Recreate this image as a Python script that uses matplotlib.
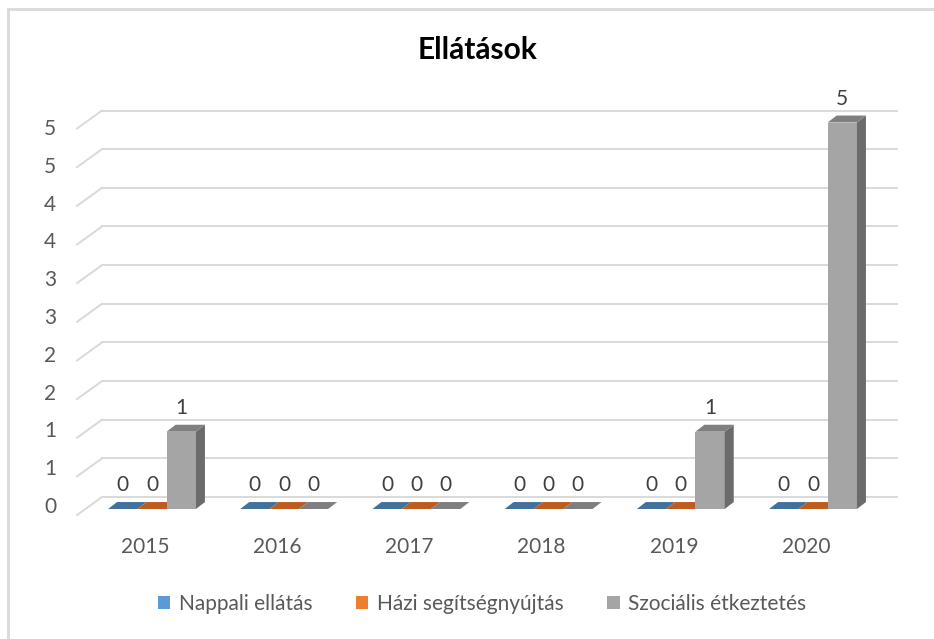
import numpy as np
import matplotlib
matplotlib.use("Agg")
import matplotlib.pyplot as plt
from matplotlib.patches import Rectangle, Polygon, Patch

# ---------------------------------------------------------------------------
# Data
# ---------------------------------------------------------------------------
years = ["2015", "2016", "2017", "2018", "2019", "2020"]
series_names = ["Nappali ellátás", "Házi segítségnyújtás", "Szociális étkeztetés"]
nappali = [0, 0, 0, 0, 0, 0]
hazi = [0, 0, 0, 0, 0, 0]
szocialis = [1, 0, 0, 0, 1, 5]
y_ticks = [0, 0.5, 1, 1.5, 2, 2.5, 3, 3.5, 4, 4.5, 5]

# colours: front, top, side
front_cols = ["#5B9BD5", "#ED7D31", "#A5A5A5"]
top_cols = ["#41719C", "#BE5B1E", "#7F7F7F"]
side_cols = ["#3A6590", "#A8501A", "#6B6B6B"]

W, H = 934, 639
# pixel calibration of the front plane (layout only)
PX_X0, PX_PER_CAT = 152, 132.2
PX_Y0, PX_PER_UNIT = 509, 77.3

BAR_W = 0.2216          # width of one bar in category units
DX, DY = 0.068, 0.09    # bar depth offset
WALL_DY = 0.155         # back wall offset
WALL_X0, WALL_X1 = -0.378, 5.635
DIAG_X0, DIAG_DY = -0.567, -0.078

FONT = "Lato"
FS = 15
TXT = "#595959"
GRID = "#D9D9D9"

fig = plt.figure(figsize=(W / 100, H / 100), dpi=100)
ax = fig.add_axes([0, 0, 1, 1])
ax.set_xlim(-PX_X0 / PX_PER_CAT, (W - PX_X0) / PX_PER_CAT)
ax.set_ylim((PX_Y0 - H) / PX_PER_UNIT, PX_Y0 / PX_PER_UNIT)
ax.axis("off")

# back wall gridlines + diagonal floor edges + tick labels
for v in y_ticks:
    ax.plot([WALL_X0, WALL_X1], [v + WALL_DY, v + WALL_DY], color=GRID, lw=1.4, zorder=1)
    ax.plot([DIAG_X0, WALL_X0], [v + DIAG_DY, v + WALL_DY], color=GRID, lw=1.4, zorder=1)
    ax.text(-0.726, 0.026 + 0.978 * v, str(int(np.floor(v + 0.5))), ha="right", va="center",
            fontsize=FS, color=TXT, family=FONT)

# bars
all_series = [nappali, hazi, szocialis]
for i, yr in enumerate(years):
    for j, vals in enumerate(all_series):
        v = vals[i]
        xl = i + (j - 1.5) * BAR_W
        if v > 0:
            ax.add_patch(Rectangle((xl, 0), BAR_W, v, facecolor=front_cols[j],
                                   edgecolor="none", zorder=3))
            ax.add_patch(Polygon([(xl + BAR_W, 0), (xl + BAR_W + DX, DY),
                                  (xl + BAR_W + DX, v + DY), (xl + BAR_W, v)],
                                 closed=True, facecolor=side_cols[j], edgecolor="none", zorder=3))
        ax.add_patch(Polygon([(xl, v), (xl + BAR_W, v), (xl + BAR_W + DX, v + DY), (xl + DX, v + DY)],
                             closed=True, facecolor=top_cols[j], edgecolor="none", zorder=3))
        ax.text(xl + BAR_W / 2, v + 0.31, f"{v}", ha="center", va="center",
                fontsize=FS, color="#404040", family=FONT, zorder=4)
    ax.text(i - 0.053, -0.49, yr, ha="center", va="center", fontsize=FS, color=TXT, family=FONT)

# title
fig.text(477.5 / W, 1 - 50 / H, "Ellátások", ha="center", va="center",
         fontsize=21.5, fontweight="bold", color="#000000", family=FONT)

# legend
handles = [Patch(facecolor=c, edgecolor="none") for c in front_cols]
leg = fig.legend(handles, series_names, loc="center", bbox_to_anchor=(482 / W, 1 - 604 / H),
                 ncol=3, frameon=False, handlelength=0.6, handleheight=0.6, handletextpad=0.4,
                 columnspacing=2.1, prop={"family": FONT, "size": FS})
for t in leg.get_texts():
    t.set_color(TXT)

# chart border (only top/left visible)
fig.patches.append(Rectangle((8 / W, -0.1), 1.2, 1.1 - 9 / H, transform=fig.transFigure,
                             fill=False, edgecolor=GRID, lw=2))

fig.savefig("out.png", dpi=100)
